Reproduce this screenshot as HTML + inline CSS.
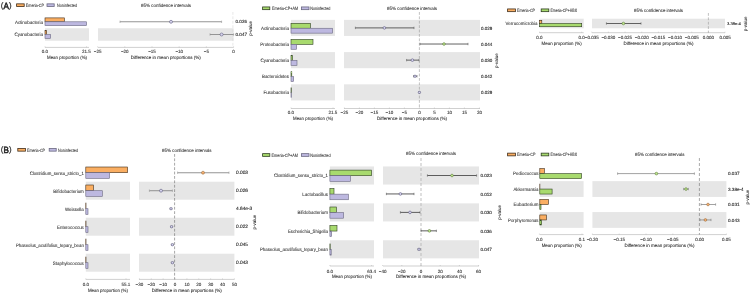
<!DOCTYPE html>
<html><head><meta charset="utf-8"><style>
html,body{margin:0;padding:0;background:#fff;width:750px;height:293px;overflow:hidden}
svg{display:block}
</style></head><body>
<svg width="750" height="293" viewBox="0 0 750 293">
<rect x="0" y="0" width="750" height="293" fill="#fff"/>
<rect x="45.00" y="28.25" width="44.00" height="12.50" fill="#E6E6E6"/>
<rect x="98.00" y="28.25" width="135.60" height="12.50" fill="#E6E6E6"/>
<line x1="45.00" y1="47.40" x2="89.00" y2="47.40" stroke="#B0B0B0" stroke-width="0.6"/>
<line x1="45.00" y1="46.40" x2="45.00" y2="47.40" stroke="#B0B0B0" stroke-width="0.5"/>
<line x1="86.50" y1="46.40" x2="86.50" y2="47.40" stroke="#B0B0B0" stroke-width="0.5"/>
<line x1="98.00" y1="47.40" x2="233.60" y2="47.40" stroke="#B0B0B0" stroke-width="0.6"/>
<line x1="97.60" y1="46.40" x2="97.60" y2="47.40" stroke="#B0B0B0" stroke-width="0.5"/>
<line x1="124.80" y1="46.40" x2="124.80" y2="47.40" stroke="#B0B0B0" stroke-width="0.5"/>
<line x1="152.00" y1="46.40" x2="152.00" y2="47.40" stroke="#B0B0B0" stroke-width="0.5"/>
<line x1="179.20" y1="46.40" x2="179.20" y2="47.40" stroke="#B0B0B0" stroke-width="0.5"/>
<line x1="206.40" y1="46.40" x2="206.40" y2="47.40" stroke="#B0B0B0" stroke-width="0.5"/>
<line x1="233.60" y1="46.40" x2="233.60" y2="47.40" stroke="#B0B0B0" stroke-width="0.5"/>
<line x1="232.90" y1="12.00" x2="232.90" y2="47.40" stroke="#d0d0d0" stroke-width="0.5" stroke-dasharray="2.8,1.6"/>
<rect x="45.00" y="17.90" width="19.40" height="3.90" fill="#FAAE62" stroke="#3f2c1a" stroke-width="0.6"/>
<rect x="45.00" y="21.80" width="41.60" height="3.90" fill="#BDB8E0" stroke="#6a6880" stroke-width="0.6"/>
<line x1="120.00" y1="21.80" x2="221.60" y2="21.80" stroke="#959595" stroke-width="1.05"/>
<line x1="120.00" y1="20.60" x2="120.00" y2="23.00" stroke="#959595" stroke-width="0.6"/>
<line x1="221.60" y1="20.60" x2="221.60" y2="23.00" stroke="#959595" stroke-width="0.6"/>
<circle cx="171.00" cy="21.80" r="1.5" fill="#D8D5EE" stroke="#4a4870" stroke-width="0.5"/>
<rect x="45.00" y="30.60" width="1.60" height="3.90" fill="#FAAE62" stroke="#3f2c1a" stroke-width="0.6"/>
<rect x="45.00" y="34.50" width="5.60" height="3.90" fill="#BDB8E0" stroke="#6a6880" stroke-width="0.6"/>
<line x1="210.00" y1="34.50" x2="233.60" y2="34.50" stroke="#959595" stroke-width="1.05"/>
<line x1="210.00" y1="33.30" x2="210.00" y2="35.70" stroke="#959595" stroke-width="0.6"/>
<line x1="233.60" y1="33.30" x2="233.60" y2="35.70" stroke="#959595" stroke-width="0.6"/>
<circle cx="221.60" cy="34.50" r="1.5" fill="#D8D5EE" stroke="#4a4870" stroke-width="0.5"/>
<rect x="16.60" y="3.85" width="7.60" height="2.70" fill="#FAAE62" stroke="#3f2c1a" stroke-width="0.8"/>
<rect x="47.00" y="3.85" width="7.20" height="2.70" fill="#BDB8E0" stroke="#6a6880" stroke-width="0.8"/>
<rect x="291.00" y="19.85" width="44.00" height="16.10" fill="#E6E6E6"/>
<rect x="344.00" y="19.85" width="136.00" height="16.10" fill="#E6E6E6"/>
<rect x="291.00" y="52.09" width="44.00" height="16.10" fill="#E6E6E6"/>
<rect x="344.00" y="52.09" width="136.00" height="16.10" fill="#E6E6E6"/>
<rect x="291.00" y="84.33" width="44.00" height="16.10" fill="#E6E6E6"/>
<rect x="344.00" y="84.33" width="136.00" height="16.10" fill="#E6E6E6"/>
<line x1="291.00" y1="108.50" x2="335.00" y2="108.50" stroke="#B0B0B0" stroke-width="0.6"/>
<line x1="291.00" y1="107.50" x2="291.00" y2="108.50" stroke="#B0B0B0" stroke-width="0.5"/>
<line x1="333.00" y1="107.50" x2="333.00" y2="108.50" stroke="#B0B0B0" stroke-width="0.5"/>
<line x1="344.00" y1="108.50" x2="480.00" y2="108.50" stroke="#B0B0B0" stroke-width="0.6"/>
<line x1="344.40" y1="107.50" x2="344.40" y2="108.50" stroke="#B0B0B0" stroke-width="0.5"/>
<line x1="359.40" y1="107.50" x2="359.40" y2="108.50" stroke="#B0B0B0" stroke-width="0.5"/>
<line x1="374.40" y1="107.50" x2="374.40" y2="108.50" stroke="#B0B0B0" stroke-width="0.5"/>
<line x1="389.40" y1="107.50" x2="389.40" y2="108.50" stroke="#B0B0B0" stroke-width="0.5"/>
<line x1="404.40" y1="107.50" x2="404.40" y2="108.50" stroke="#B0B0B0" stroke-width="0.5"/>
<line x1="419.40" y1="107.50" x2="419.40" y2="108.50" stroke="#B0B0B0" stroke-width="0.5"/>
<line x1="434.40" y1="107.50" x2="434.40" y2="108.50" stroke="#B0B0B0" stroke-width="0.5"/>
<line x1="449.40" y1="107.50" x2="449.40" y2="108.50" stroke="#B0B0B0" stroke-width="0.5"/>
<line x1="464.40" y1="107.50" x2="464.40" y2="108.50" stroke="#B0B0B0" stroke-width="0.5"/>
<line x1="479.40" y1="107.50" x2="479.40" y2="108.50" stroke="#B0B0B0" stroke-width="0.5"/>
<line x1="419.40" y1="12.00" x2="419.40" y2="108.50" stroke="#999999" stroke-width="0.6" stroke-dasharray="2.8,1.6"/>
<rect x="291.00" y="23.35" width="19.40" height="4.90" fill="#A8DA6E" stroke="#2f3f22" stroke-width="0.6"/>
<rect x="291.00" y="28.25" width="41.60" height="4.90" fill="#BDB8E0" stroke="#6a6880" stroke-width="0.6"/>
<line x1="355.40" y1="27.90" x2="414.00" y2="27.90" stroke="#5a5a5a" stroke-width="0.95"/>
<line x1="355.40" y1="26.70" x2="355.40" y2="29.10" stroke="#5a5a5a" stroke-width="0.6"/>
<line x1="414.00" y1="26.70" x2="414.00" y2="29.10" stroke="#5a5a5a" stroke-width="0.6"/>
<circle cx="384.40" cy="27.90" r="1.35" fill="#D8D5EE" stroke="#4a4870" stroke-width="0.5"/>
<rect x="291.00" y="39.47" width="22.00" height="4.90" fill="#A8DA6E" stroke="#2f3f22" stroke-width="0.6"/>
<rect x="291.00" y="44.37" width="5.60" height="4.90" fill="#BDB8E0" stroke="#6a6880" stroke-width="0.6"/>
<line x1="420.00" y1="44.02" x2="468.00" y2="44.02" stroke="#5a5a5a" stroke-width="0.95"/>
<line x1="420.00" y1="42.82" x2="420.00" y2="45.22" stroke="#5a5a5a" stroke-width="0.6"/>
<line x1="468.00" y1="42.82" x2="468.00" y2="45.22" stroke="#5a5a5a" stroke-width="0.6"/>
<circle cx="444.00" cy="44.02" r="1.35" fill="#C0E890" stroke="#4a6a25" stroke-width="0.5"/>
<rect x="291.00" y="55.59" width="1.40" height="4.90" fill="#A8DA6E" stroke="#2f3f22" stroke-width="0.6"/>
<rect x="291.00" y="60.49" width="6.00" height="4.90" fill="#BDB8E0" stroke="#6a6880" stroke-width="0.6"/>
<line x1="406.60" y1="60.14" x2="419.00" y2="60.14" stroke="#5a5a5a" stroke-width="0.95"/>
<line x1="406.60" y1="58.94" x2="406.60" y2="61.34" stroke="#5a5a5a" stroke-width="0.6"/>
<line x1="419.00" y1="58.94" x2="419.00" y2="61.34" stroke="#5a5a5a" stroke-width="0.6"/>
<circle cx="412.40" cy="60.14" r="1.35" fill="#D8D5EE" stroke="#4a4870" stroke-width="0.5"/>
<rect x="291.00" y="71.71" width="0.80" height="4.90" fill="#A8DA6E" stroke="#2f3f22" stroke-width="0.6"/>
<rect x="291.00" y="76.61" width="2.60" height="4.90" fill="#BDB8E0" stroke="#6a6880" stroke-width="0.6"/>
<line x1="413.60" y1="76.26" x2="417.00" y2="76.26" stroke="#5a5a5a" stroke-width="0.95"/>
<line x1="413.60" y1="75.06" x2="413.60" y2="77.46" stroke="#5a5a5a" stroke-width="0.6"/>
<line x1="417.00" y1="75.06" x2="417.00" y2="77.46" stroke="#5a5a5a" stroke-width="0.6"/>
<circle cx="415.00" cy="76.26" r="1.2" fill="#D8D5EE" stroke="#4a4870" stroke-width="0.5"/>
<rect x="291.00" y="87.83" width="0.30" height="4.90" fill="#A8DA6E" stroke="#2f3f22" stroke-width="0.6"/>
<rect x="291.00" y="92.73" width="0.50" height="4.90" fill="#BDB8E0" stroke="#6a6880" stroke-width="0.6"/>
<line x1="419.00" y1="92.38" x2="419.80" y2="92.38" stroke="#5a5a5a" stroke-width="0.95"/>
<line x1="419.00" y1="91.18" x2="419.00" y2="93.58" stroke="#5a5a5a" stroke-width="0.6"/>
<line x1="419.80" y1="91.18" x2="419.80" y2="93.58" stroke="#5a5a5a" stroke-width="0.6"/>
<circle cx="419.40" cy="92.38" r="1.2" fill="#D8D5EE" stroke="#4a4870" stroke-width="0.5"/>
<rect x="262.60" y="6.95" width="7.20" height="2.70" fill="#A8DA6E" stroke="#2f3f22" stroke-width="0.8"/>
<rect x="301.40" y="6.95" width="7.60" height="2.70" fill="#BDB8E0" stroke="#6a6880" stroke-width="0.8"/>
<rect x="539.50" y="18.70" width="44.20" height="9.60" fill="#E6E6E6"/>
<rect x="592.00" y="18.70" width="133.00" height="9.60" fill="#E6E6E6"/>
<line x1="539.50" y1="32.70" x2="583.70" y2="32.70" stroke="#B0B0B0" stroke-width="0.6"/>
<line x1="539.50" y1="31.70" x2="539.50" y2="32.70" stroke="#B0B0B0" stroke-width="0.5"/>
<line x1="581.70" y1="31.70" x2="581.70" y2="32.70" stroke="#B0B0B0" stroke-width="0.5"/>
<line x1="592.00" y1="32.70" x2="725.00" y2="32.70" stroke="#B0B0B0" stroke-width="0.6"/>
<line x1="591.70" y1="31.70" x2="591.70" y2="32.70" stroke="#B0B0B0" stroke-width="0.5"/>
<line x1="608.37" y1="31.70" x2="608.37" y2="32.70" stroke="#B0B0B0" stroke-width="0.5"/>
<line x1="625.04" y1="31.70" x2="625.04" y2="32.70" stroke="#B0B0B0" stroke-width="0.5"/>
<line x1="641.71" y1="31.70" x2="641.71" y2="32.70" stroke="#B0B0B0" stroke-width="0.5"/>
<line x1="658.38" y1="31.70" x2="658.38" y2="32.70" stroke="#B0B0B0" stroke-width="0.5"/>
<line x1="675.05" y1="31.70" x2="675.05" y2="32.70" stroke="#B0B0B0" stroke-width="0.5"/>
<line x1="691.72" y1="31.70" x2="691.72" y2="32.70" stroke="#B0B0B0" stroke-width="0.5"/>
<line x1="708.39" y1="31.70" x2="708.39" y2="32.70" stroke="#B0B0B0" stroke-width="0.5"/>
<line x1="725.06" y1="31.70" x2="725.06" y2="32.70" stroke="#B0B0B0" stroke-width="0.5"/>
<line x1="708.40" y1="13.00" x2="708.40" y2="32.70" stroke="#999999" stroke-width="0.6" stroke-dasharray="2.8,1.6"/>
<rect x="539.50" y="20.30" width="2.30" height="3.20" fill="#FAAE62" stroke="#3f2c1a" stroke-width="0.6"/>
<rect x="539.50" y="23.50" width="42.20" height="3.20" fill="#A8DA6E" stroke="#2f3f22" stroke-width="0.6"/>
<line x1="606.40" y1="23.50" x2="641.00" y2="23.50" stroke="#5a5a5a" stroke-width="0.95"/>
<line x1="606.40" y1="22.30" x2="606.40" y2="24.70" stroke="#5a5a5a" stroke-width="0.6"/>
<line x1="641.00" y1="22.30" x2="641.00" y2="24.70" stroke="#5a5a5a" stroke-width="0.6"/>
<circle cx="623.40" cy="23.50" r="1.35" fill="#C0E890" stroke="#4a6a25" stroke-width="0.5"/>
<rect x="507.60" y="8.95" width="7.80" height="2.70" fill="#FAAE62" stroke="#3f2c1a" stroke-width="0.8"/>
<rect x="541.20" y="8.95" width="7.60" height="2.70" fill="#A8DA6E" stroke="#2f3f22" stroke-width="0.8"/>
<rect x="85.80" y="181.70" width="44.20" height="18.00" fill="#E6E6E6"/>
<rect x="139.00" y="181.70" width="95.40" height="18.00" fill="#E6E6E6"/>
<rect x="85.80" y="217.70" width="44.20" height="18.00" fill="#E6E6E6"/>
<rect x="139.00" y="217.70" width="95.40" height="18.00" fill="#E6E6E6"/>
<rect x="85.80" y="253.70" width="44.20" height="18.00" fill="#E6E6E6"/>
<rect x="139.00" y="253.70" width="95.40" height="18.00" fill="#E6E6E6"/>
<line x1="85.80" y1="279.40" x2="130.00" y2="279.40" stroke="#B0B0B0" stroke-width="0.6"/>
<line x1="85.80" y1="278.40" x2="85.80" y2="279.40" stroke="#B0B0B0" stroke-width="0.5"/>
<line x1="126.00" y1="278.40" x2="126.00" y2="279.40" stroke="#B0B0B0" stroke-width="0.5"/>
<line x1="139.00" y1="279.40" x2="234.40" y2="279.40" stroke="#B0B0B0" stroke-width="0.6"/>
<line x1="139.40" y1="278.40" x2="139.40" y2="279.40" stroke="#B0B0B0" stroke-width="0.5"/>
<line x1="151.28" y1="278.40" x2="151.28" y2="279.40" stroke="#B0B0B0" stroke-width="0.5"/>
<line x1="163.15" y1="278.40" x2="163.15" y2="279.40" stroke="#B0B0B0" stroke-width="0.5"/>
<line x1="175.03" y1="278.40" x2="175.03" y2="279.40" stroke="#B0B0B0" stroke-width="0.5"/>
<line x1="186.90" y1="278.40" x2="186.90" y2="279.40" stroke="#B0B0B0" stroke-width="0.5"/>
<line x1="198.78" y1="278.40" x2="198.78" y2="279.40" stroke="#B0B0B0" stroke-width="0.5"/>
<line x1="210.65" y1="278.40" x2="210.65" y2="279.40" stroke="#B0B0B0" stroke-width="0.5"/>
<line x1="222.53" y1="278.40" x2="222.53" y2="279.40" stroke="#B0B0B0" stroke-width="0.5"/>
<line x1="234.40" y1="278.40" x2="234.40" y2="279.40" stroke="#B0B0B0" stroke-width="0.5"/>
<line x1="174.60" y1="154.00" x2="174.60" y2="279.40" stroke="#6a6a6a" stroke-width="0.6" stroke-dasharray="2.8,1.6"/>
<rect x="85.80" y="167.00" width="41.80" height="5.70" fill="#FAAE62" stroke="#3f2c1a" stroke-width="0.6"/>
<rect x="85.80" y="172.70" width="23.80" height="5.70" fill="#BDB8E0" stroke="#6a6880" stroke-width="0.6"/>
<line x1="177.60" y1="172.70" x2="229.00" y2="172.70" stroke="#959595" stroke-width="1.05"/>
<line x1="177.60" y1="171.50" x2="177.60" y2="173.90" stroke="#959595" stroke-width="0.6"/>
<line x1="229.00" y1="171.50" x2="229.00" y2="173.90" stroke="#959595" stroke-width="0.6"/>
<circle cx="203.00" cy="172.70" r="1.5" fill="#F8B070" stroke="#8a6035" stroke-width="0.5"/>
<rect x="85.80" y="185.00" width="7.60" height="5.70" fill="#FAAE62" stroke="#3f2c1a" stroke-width="0.6"/>
<rect x="85.80" y="190.70" width="16.50" height="5.70" fill="#BDB8E0" stroke="#6a6880" stroke-width="0.6"/>
<line x1="149.40" y1="190.70" x2="172.40" y2="190.70" stroke="#959595" stroke-width="1.05"/>
<line x1="149.40" y1="189.50" x2="149.40" y2="191.90" stroke="#959595" stroke-width="0.6"/>
<line x1="172.40" y1="189.50" x2="172.40" y2="191.90" stroke="#959595" stroke-width="0.6"/>
<circle cx="161.00" cy="190.70" r="1.5" fill="#D8D5EE" stroke="#4a4870" stroke-width="0.5"/>
<rect x="85.80" y="203.00" width="0.20" height="5.70" fill="#FAAE62" stroke="#3f2c1a" stroke-width="0.6"/>
<rect x="85.80" y="208.70" width="2.20" height="5.70" fill="#BDB8E0" stroke="#6a6880" stroke-width="0.6"/>
<line x1="170.00" y1="208.70" x2="172.00" y2="208.70" stroke="#959595" stroke-width="1.05"/>
<line x1="170.00" y1="207.50" x2="170.00" y2="209.90" stroke="#959595" stroke-width="0.6"/>
<line x1="172.00" y1="207.50" x2="172.00" y2="209.90" stroke="#959595" stroke-width="0.6"/>
<circle cx="171.00" cy="208.70" r="1.2" fill="#D8D5EE" stroke="#4a4870" stroke-width="0.5"/>
<rect x="85.80" y="221.00" width="0.20" height="5.70" fill="#FAAE62" stroke="#3f2c1a" stroke-width="0.6"/>
<rect x="85.80" y="226.70" width="2.20" height="5.70" fill="#BDB8E0" stroke="#6a6880" stroke-width="0.6"/>
<line x1="170.60" y1="226.70" x2="172.60" y2="226.70" stroke="#959595" stroke-width="1.05"/>
<line x1="170.60" y1="225.50" x2="170.60" y2="227.90" stroke="#959595" stroke-width="0.6"/>
<line x1="172.60" y1="225.50" x2="172.60" y2="227.90" stroke="#959595" stroke-width="0.6"/>
<circle cx="171.60" cy="226.70" r="1.2" fill="#D8D5EE" stroke="#4a4870" stroke-width="0.5"/>
<rect x="85.80" y="239.00" width="0.20" height="5.70" fill="#FAAE62" stroke="#3f2c1a" stroke-width="0.6"/>
<rect x="85.80" y="244.70" width="2.20" height="5.70" fill="#BDB8E0" stroke="#6a6880" stroke-width="0.6"/>
<line x1="171.40" y1="244.70" x2="173.40" y2="244.70" stroke="#959595" stroke-width="1.05"/>
<line x1="171.40" y1="243.50" x2="171.40" y2="245.90" stroke="#959595" stroke-width="0.6"/>
<line x1="173.40" y1="243.50" x2="173.40" y2="245.90" stroke="#959595" stroke-width="0.6"/>
<circle cx="172.40" cy="244.70" r="1.2" fill="#D8D5EE" stroke="#4a4870" stroke-width="0.5"/>
<rect x="85.80" y="257.00" width="0.20" height="5.70" fill="#FAAE62" stroke="#3f2c1a" stroke-width="0.6"/>
<rect x="85.80" y="262.70" width="2.20" height="5.70" fill="#BDB8E0" stroke="#6a6880" stroke-width="0.6"/>
<line x1="171.40" y1="262.70" x2="173.40" y2="262.70" stroke="#959595" stroke-width="1.05"/>
<line x1="171.40" y1="261.50" x2="171.40" y2="263.90" stroke="#959595" stroke-width="0.6"/>
<line x1="173.40" y1="261.50" x2="173.40" y2="263.90" stroke="#959595" stroke-width="0.6"/>
<circle cx="172.40" cy="262.70" r="1.2" fill="#D8D5EE" stroke="#4a4870" stroke-width="0.5"/>
<rect x="17.80" y="148.45" width="7.60" height="2.70" fill="#FAAE62" stroke="#3f2c1a" stroke-width="0.8"/>
<rect x="49.20" y="148.45" width="7.00" height="2.70" fill="#BDB8E0" stroke="#6a6880" stroke-width="0.8"/>
<rect x="329.90" y="166.45" width="44.10" height="18.10" fill="#E6E6E6"/>
<rect x="383.00" y="166.45" width="96.00" height="18.10" fill="#E6E6E6"/>
<rect x="329.90" y="203.35" width="44.10" height="18.10" fill="#E6E6E6"/>
<rect x="383.00" y="203.35" width="96.00" height="18.10" fill="#E6E6E6"/>
<rect x="329.90" y="240.25" width="44.10" height="18.10" fill="#E6E6E6"/>
<rect x="383.00" y="240.25" width="96.00" height="18.10" fill="#E6E6E6"/>
<line x1="329.90" y1="266.00" x2="374.00" y2="266.00" stroke="#B0B0B0" stroke-width="0.6"/>
<line x1="329.90" y1="265.00" x2="329.90" y2="266.00" stroke="#B0B0B0" stroke-width="0.5"/>
<line x1="371.60" y1="265.00" x2="371.60" y2="266.00" stroke="#B0B0B0" stroke-width="0.5"/>
<line x1="383.00" y1="266.00" x2="479.00" y2="266.00" stroke="#B0B0B0" stroke-width="0.6"/>
<line x1="382.60" y1="265.00" x2="382.60" y2="266.00" stroke="#B0B0B0" stroke-width="0.5"/>
<line x1="401.80" y1="265.00" x2="401.80" y2="266.00" stroke="#B0B0B0" stroke-width="0.5"/>
<line x1="421.00" y1="265.00" x2="421.00" y2="266.00" stroke="#B0B0B0" stroke-width="0.5"/>
<line x1="440.20" y1="265.00" x2="440.20" y2="266.00" stroke="#B0B0B0" stroke-width="0.5"/>
<line x1="459.40" y1="265.00" x2="459.40" y2="266.00" stroke="#B0B0B0" stroke-width="0.5"/>
<line x1="478.60" y1="265.00" x2="478.60" y2="266.00" stroke="#B0B0B0" stroke-width="0.5"/>
<line x1="421.00" y1="158.00" x2="421.00" y2="266.00" stroke="#b8b8b8" stroke-width="0.9" stroke-dasharray="3,2"/>
<rect x="329.90" y="170.10" width="41.70" height="5.60" fill="#A8DA6E" stroke="#2f3f22" stroke-width="0.6"/>
<rect x="329.90" y="175.70" width="20.50" height="5.60" fill="#BDB8E0" stroke="#6a6880" stroke-width="0.6"/>
<line x1="427.40" y1="175.50" x2="476.60" y2="175.50" stroke="#555555" stroke-width="0.95"/>
<line x1="427.40" y1="174.30" x2="427.40" y2="176.70" stroke="#555555" stroke-width="0.6"/>
<line x1="476.60" y1="174.30" x2="476.60" y2="176.70" stroke="#555555" stroke-width="0.6"/>
<circle cx="452.00" cy="175.50" r="1.35" fill="#C0E890" stroke="#4a6a25" stroke-width="0.5"/>
<rect x="329.90" y="188.55" width="4.10" height="5.60" fill="#A8DA6E" stroke="#2f3f22" stroke-width="0.6"/>
<rect x="329.90" y="194.15" width="18.50" height="5.60" fill="#BDB8E0" stroke="#6a6880" stroke-width="0.6"/>
<line x1="386.40" y1="193.95" x2="414.00" y2="193.95" stroke="#555555" stroke-width="0.95"/>
<line x1="386.40" y1="192.75" x2="386.40" y2="195.15" stroke="#555555" stroke-width="0.6"/>
<line x1="414.00" y1="192.75" x2="414.00" y2="195.15" stroke="#555555" stroke-width="0.6"/>
<circle cx="400.40" cy="193.95" r="1.35" fill="#D8D5EE" stroke="#4a4870" stroke-width="0.5"/>
<rect x="329.90" y="207.00" width="6.50" height="5.60" fill="#A8DA6E" stroke="#2f3f22" stroke-width="0.6"/>
<rect x="329.90" y="212.60" width="13.70" height="5.60" fill="#BDB8E0" stroke="#6a6880" stroke-width="0.6"/>
<line x1="400.40" y1="212.40" x2="420.00" y2="212.40" stroke="#555555" stroke-width="0.95"/>
<line x1="400.40" y1="211.20" x2="400.40" y2="213.60" stroke="#555555" stroke-width="0.6"/>
<line x1="420.00" y1="211.20" x2="420.00" y2="213.60" stroke="#555555" stroke-width="0.6"/>
<circle cx="410.00" cy="212.40" r="1.35" fill="#D8D5EE" stroke="#4a4870" stroke-width="0.5"/>
<rect x="329.90" y="225.45" width="7.10" height="5.60" fill="#A8DA6E" stroke="#2f3f22" stroke-width="0.6"/>
<rect x="329.90" y="231.05" width="1.70" height="5.60" fill="#BDB8E0" stroke="#6a6880" stroke-width="0.6"/>
<line x1="421.00" y1="230.85" x2="436.40" y2="230.85" stroke="#555555" stroke-width="0.95"/>
<line x1="421.00" y1="229.65" x2="421.00" y2="232.05" stroke="#555555" stroke-width="0.6"/>
<line x1="436.40" y1="229.65" x2="436.40" y2="232.05" stroke="#555555" stroke-width="0.6"/>
<circle cx="429.40" cy="230.85" r="1.35" fill="#C0E890" stroke="#4a6a25" stroke-width="0.5"/>
<rect x="329.90" y="243.90" width="0.30" height="5.60" fill="#A8DA6E" stroke="#2f3f22" stroke-width="0.6"/>
<rect x="329.90" y="249.50" width="1.30" height="5.60" fill="#BDB8E0" stroke="#6a6880" stroke-width="0.6"/>
<line x1="418.00" y1="249.30" x2="420.00" y2="249.30" stroke="#555555" stroke-width="0.95"/>
<line x1="418.00" y1="248.10" x2="418.00" y2="250.50" stroke="#555555" stroke-width="0.6"/>
<line x1="420.00" y1="248.10" x2="420.00" y2="250.50" stroke="#555555" stroke-width="0.6"/>
<circle cx="419.00" cy="249.30" r="1.2" fill="#D8D5EE" stroke="#4a4870" stroke-width="0.5"/>
<rect x="262.60" y="153.65" width="7.20" height="2.70" fill="#A8DA6E" stroke="#2f3f22" stroke-width="0.8"/>
<rect x="301.40" y="153.65" width="7.60" height="2.70" fill="#BDB8E0" stroke="#6a6880" stroke-width="0.8"/>
<rect x="539.80" y="181.15" width="43.80" height="15.80" fill="#E6E6E6"/>
<rect x="592.40" y="181.15" width="134.00" height="15.80" fill="#E6E6E6"/>
<rect x="539.80" y="212.05" width="43.80" height="15.80" fill="#E6E6E6"/>
<rect x="592.40" y="212.05" width="134.00" height="15.80" fill="#E6E6E6"/>
<line x1="539.80" y1="234.60" x2="583.60" y2="234.60" stroke="#B0B0B0" stroke-width="0.6"/>
<line x1="539.40" y1="233.60" x2="539.40" y2="234.60" stroke="#B0B0B0" stroke-width="0.5"/>
<line x1="582.00" y1="233.60" x2="582.00" y2="234.60" stroke="#B0B0B0" stroke-width="0.5"/>
<line x1="592.40" y1="234.60" x2="726.40" y2="234.60" stroke="#B0B0B0" stroke-width="0.6"/>
<line x1="592.40" y1="233.60" x2="592.40" y2="234.60" stroke="#B0B0B0" stroke-width="0.5"/>
<line x1="619.20" y1="233.60" x2="619.20" y2="234.60" stroke="#B0B0B0" stroke-width="0.5"/>
<line x1="646.00" y1="233.60" x2="646.00" y2="234.60" stroke="#B0B0B0" stroke-width="0.5"/>
<line x1="672.80" y1="233.60" x2="672.80" y2="234.60" stroke="#B0B0B0" stroke-width="0.5"/>
<line x1="699.60" y1="233.60" x2="699.60" y2="234.60" stroke="#B0B0B0" stroke-width="0.5"/>
<line x1="726.40" y1="233.60" x2="726.40" y2="234.60" stroke="#B0B0B0" stroke-width="0.5"/>
<line x1="699.40" y1="158.00" x2="699.40" y2="234.60" stroke="#707070" stroke-width="0.6" stroke-dasharray="3,2"/>
<rect x="539.80" y="168.60" width="4.60" height="5.00" fill="#FAAE62" stroke="#3f2c1a" stroke-width="0.6"/>
<rect x="539.80" y="173.60" width="41.80" height="5.00" fill="#A8DA6E" stroke="#2f3f22" stroke-width="0.6"/>
<line x1="617.60" y1="173.60" x2="694.40" y2="173.60" stroke="#7a7a7a" stroke-width="0.7"/>
<line x1="617.60" y1="172.40" x2="617.60" y2="174.80" stroke="#7a7a7a" stroke-width="0.6"/>
<line x1="694.40" y1="172.40" x2="694.40" y2="174.80" stroke="#7a7a7a" stroke-width="0.6"/>
<circle cx="656.40" cy="173.60" r="1.35" fill="#C0E890" stroke="#4a6a25" stroke-width="0.5"/>
<rect x="539.80" y="184.05" width="0.10" height="5.00" fill="#FAAE62" stroke="#3f2c1a" stroke-width="0.6"/>
<rect x="539.80" y="189.05" width="12.30" height="5.00" fill="#A8DA6E" stroke="#2f3f22" stroke-width="0.6"/>
<line x1="683.60" y1="189.05" x2="688.40" y2="189.05" stroke="#7a7a7a" stroke-width="0.7"/>
<line x1="683.60" y1="187.85" x2="683.60" y2="190.25" stroke="#7a7a7a" stroke-width="0.6"/>
<line x1="688.40" y1="187.85" x2="688.40" y2="190.25" stroke="#7a7a7a" stroke-width="0.6"/>
<circle cx="686.00" cy="189.05" r="1.35" fill="#C0E890" stroke="#4a6a25" stroke-width="0.5"/>
<rect x="539.80" y="199.50" width="8.60" height="5.00" fill="#FAAE62" stroke="#3f2c1a" stroke-width="0.6"/>
<rect x="539.80" y="204.50" width="1.20" height="5.00" fill="#A8DA6E" stroke="#2f3f22" stroke-width="0.6"/>
<line x1="701.00" y1="204.50" x2="715.60" y2="204.50" stroke="#7a7a7a" stroke-width="0.7"/>
<line x1="701.00" y1="203.30" x2="701.00" y2="205.70" stroke="#7a7a7a" stroke-width="0.6"/>
<line x1="715.60" y1="203.30" x2="715.60" y2="205.70" stroke="#7a7a7a" stroke-width="0.6"/>
<circle cx="708.00" cy="204.50" r="1.35" fill="#F8B070" stroke="#8a6035" stroke-width="0.5"/>
<rect x="539.80" y="214.95" width="6.60" height="5.00" fill="#FAAE62" stroke="#3f2c1a" stroke-width="0.6"/>
<rect x="539.80" y="219.95" width="1.80" height="5.00" fill="#A8DA6E" stroke="#2f3f22" stroke-width="0.6"/>
<line x1="700.00" y1="219.95" x2="711.00" y2="219.95" stroke="#7a7a7a" stroke-width="0.7"/>
<line x1="700.00" y1="218.75" x2="700.00" y2="221.15" stroke="#7a7a7a" stroke-width="0.6"/>
<line x1="711.00" y1="218.75" x2="711.00" y2="221.15" stroke="#7a7a7a" stroke-width="0.6"/>
<circle cx="705.40" cy="219.95" r="1.35" fill="#F8B070" stroke="#8a6035" stroke-width="0.5"/>
<rect x="507.60" y="153.15" width="7.80" height="2.70" fill="#FAAE62" stroke="#3f2c1a" stroke-width="0.8"/>
<rect x="541.20" y="153.15" width="7.60" height="2.70" fill="#A8DA6E" stroke="#2f3f22" stroke-width="0.8"/>
<g style="filter:grayscale(1)" text-rendering="geometricPrecision">
<text x="45.00" y="53.21" font-size="4.5" text-anchor="middle" font-family="'Liberation Sans', sans-serif" fill="#2b2b2b" stroke="#2b2b2b" stroke-width="0.08">0.0</text>
<text x="86.50" y="53.21" font-size="4.5" text-anchor="middle" font-family="'Liberation Sans', sans-serif" fill="#2b2b2b" stroke="#2b2b2b" stroke-width="0.08">21.5</text>
<text x="97.60" y="53.21" font-size="4.5" text-anchor="middle" font-family="'Liberation Sans', sans-serif" fill="#2b2b2b" stroke="#2b2b2b" stroke-width="0.08">−25</text>
<text x="124.80" y="53.21" font-size="4.5" text-anchor="middle" font-family="'Liberation Sans', sans-serif" fill="#2b2b2b" stroke="#2b2b2b" stroke-width="0.08">−20</text>
<text x="152.00" y="53.21" font-size="4.5" text-anchor="middle" font-family="'Liberation Sans', sans-serif" fill="#2b2b2b" stroke="#2b2b2b" stroke-width="0.08">−15</text>
<text x="179.20" y="53.21" font-size="4.5" text-anchor="middle" font-family="'Liberation Sans', sans-serif" fill="#2b2b2b" stroke="#2b2b2b" stroke-width="0.08">−10</text>
<text x="206.40" y="53.21" font-size="4.5" text-anchor="middle" font-family="'Liberation Sans', sans-serif" fill="#2b2b2b" stroke="#2b2b2b" stroke-width="0.08">−5</text>
<text x="233.60" y="53.21" font-size="4.5" text-anchor="middle" font-family="'Liberation Sans', sans-serif" fill="#2b2b2b" stroke="#2b2b2b" stroke-width="0.08">0</text>
<text x="67.00" y="59.15" font-size="4.6" text-anchor="middle" font-family="'Liberation Sans', sans-serif" fill="#2b2b2b" stroke="#2b2b2b" stroke-width="0.08" textLength="40.00" lengthAdjust="spacingAndGlyphs">Mean proportion (%)</text>
<text x="165.80" y="59.15" font-size="4.6" text-anchor="middle" font-family="'Liberation Sans', sans-serif" fill="#2b2b2b" stroke="#2b2b2b" stroke-width="0.08" textLength="70.00" lengthAdjust="spacingAndGlyphs">Difference in mean proportions (%)</text>
<text x="43.00" y="23.52" font-size="4.8" text-anchor="end" font-family="'Liberation Sans', sans-serif" fill="#303030" stroke="#303030" stroke-width="0.07" textLength="28.01" lengthAdjust="spacingAndGlyphs">Actinobacteria</text>
<text x="235.50" y="23.45" font-size="4.6" text-anchor="start" font-family="'Liberation Sans', sans-serif" fill="#2b2b2b" stroke="#2b2b2b" stroke-width="0.12">0.026</text>
<text x="43.00" y="36.22" font-size="4.8" text-anchor="end" font-family="'Liberation Sans', sans-serif" fill="#303030" stroke="#303030" stroke-width="0.07" textLength="28.50" lengthAdjust="spacingAndGlyphs">Cyanobacteria</text>
<text x="235.50" y="36.15" font-size="4.6" text-anchor="start" font-family="'Liberation Sans', sans-serif" fill="#2b2b2b" stroke="#2b2b2b" stroke-width="0.12">0.047</text>
<text x="141.00" y="6.95" font-size="4.6" text-anchor="start" font-family="'Liberation Sans', sans-serif" fill="#333" stroke="#333" stroke-width="0.08" textLength="50.00" lengthAdjust="spacingAndGlyphs">95% confidence intervals</text>
<text x="250.60" y="29.91" font-size="4.5" text-anchor="middle" font-family="'Liberation Sans', sans-serif" fill="#2b2b2b" stroke="#2b2b2b" stroke-width="0.08" transform="rotate(-90 250.60 28.30)">p-value</text>
<text x="25.80" y="7.00" font-size="4.6" text-anchor="start" font-family="'Liberation Sans', sans-serif" fill="#333" stroke="#333" stroke-width="0.08" textLength="18.20" lengthAdjust="spacingAndGlyphs">Emeria-CP</text>
<text x="57.00" y="7.00" font-size="4.6" text-anchor="start" font-family="'Liberation Sans', sans-serif" fill="#333" stroke="#333" stroke-width="0.08" textLength="20.00" lengthAdjust="spacingAndGlyphs">Noninfected</text>
<text x="291.00" y="114.21" font-size="4.5" text-anchor="middle" font-family="'Liberation Sans', sans-serif" fill="#2b2b2b" stroke="#2b2b2b" stroke-width="0.08">0.0</text>
<text x="333.00" y="114.21" font-size="4.5" text-anchor="middle" font-family="'Liberation Sans', sans-serif" fill="#2b2b2b" stroke="#2b2b2b" stroke-width="0.08">21.5</text>
<text x="344.40" y="114.21" font-size="4.5" text-anchor="middle" font-family="'Liberation Sans', sans-serif" fill="#2b2b2b" stroke="#2b2b2b" stroke-width="0.08">−25</text>
<text x="359.40" y="114.21" font-size="4.5" text-anchor="middle" font-family="'Liberation Sans', sans-serif" fill="#2b2b2b" stroke="#2b2b2b" stroke-width="0.08">−20</text>
<text x="374.40" y="114.21" font-size="4.5" text-anchor="middle" font-family="'Liberation Sans', sans-serif" fill="#2b2b2b" stroke="#2b2b2b" stroke-width="0.08">−15</text>
<text x="389.40" y="114.21" font-size="4.5" text-anchor="middle" font-family="'Liberation Sans', sans-serif" fill="#2b2b2b" stroke="#2b2b2b" stroke-width="0.08">−10</text>
<text x="404.40" y="114.21" font-size="4.5" text-anchor="middle" font-family="'Liberation Sans', sans-serif" fill="#2b2b2b" stroke="#2b2b2b" stroke-width="0.08">−5</text>
<text x="419.40" y="114.21" font-size="4.5" text-anchor="middle" font-family="'Liberation Sans', sans-serif" fill="#2b2b2b" stroke="#2b2b2b" stroke-width="0.08">0</text>
<text x="434.40" y="114.21" font-size="4.5" text-anchor="middle" font-family="'Liberation Sans', sans-serif" fill="#2b2b2b" stroke="#2b2b2b" stroke-width="0.08">5</text>
<text x="449.40" y="114.21" font-size="4.5" text-anchor="middle" font-family="'Liberation Sans', sans-serif" fill="#2b2b2b" stroke="#2b2b2b" stroke-width="0.08">10</text>
<text x="464.40" y="114.21" font-size="4.5" text-anchor="middle" font-family="'Liberation Sans', sans-serif" fill="#2b2b2b" stroke="#2b2b2b" stroke-width="0.08">15</text>
<text x="479.40" y="114.21" font-size="4.5" text-anchor="middle" font-family="'Liberation Sans', sans-serif" fill="#2b2b2b" stroke="#2b2b2b" stroke-width="0.08">20</text>
<text x="313.00" y="120.35" font-size="4.6" text-anchor="middle" font-family="'Liberation Sans', sans-serif" fill="#2b2b2b" stroke="#2b2b2b" stroke-width="0.08" textLength="40.00" lengthAdjust="spacingAndGlyphs">Mean proportion (%)</text>
<text x="412.00" y="120.35" font-size="4.6" text-anchor="middle" font-family="'Liberation Sans', sans-serif" fill="#2b2b2b" stroke="#2b2b2b" stroke-width="0.08" textLength="70.00" lengthAdjust="spacingAndGlyphs">Difference in mean proportions (%)</text>
<text x="289.00" y="29.62" font-size="4.8" text-anchor="end" font-family="'Liberation Sans', sans-serif" fill="#303030" stroke="#303030" stroke-width="0.07" textLength="28.01" lengthAdjust="spacingAndGlyphs">Actinobacteria</text>
<text x="481.00" y="29.51" font-size="4.5" text-anchor="start" font-family="'Liberation Sans', sans-serif" fill="#2b2b2b" stroke="#2b2b2b" stroke-width="0.12">0.029</text>
<text x="289.00" y="45.74" font-size="4.8" text-anchor="end" font-family="'Liberation Sans', sans-serif" fill="#303030" stroke="#303030" stroke-width="0.07" textLength="28.75" lengthAdjust="spacingAndGlyphs">Proteobacteria</text>
<text x="481.00" y="45.63" font-size="4.5" text-anchor="start" font-family="'Liberation Sans', sans-serif" fill="#2b2b2b" stroke="#2b2b2b" stroke-width="0.12">0.044</text>
<text x="289.00" y="61.86" font-size="4.8" text-anchor="end" font-family="'Liberation Sans', sans-serif" fill="#303030" stroke="#303030" stroke-width="0.07" textLength="28.50" lengthAdjust="spacingAndGlyphs">Cyanobacteria</text>
<text x="481.00" y="61.75" font-size="4.5" text-anchor="start" font-family="'Liberation Sans', sans-serif" fill="#2b2b2b" stroke="#2b2b2b" stroke-width="0.12">0.030</text>
<text x="289.00" y="77.98" font-size="4.8" text-anchor="end" font-family="'Liberation Sans', sans-serif" fill="#303030" stroke="#303030" stroke-width="0.07" textLength="27.03" lengthAdjust="spacingAndGlyphs">Bacteroidetes</text>
<text x="481.00" y="77.87" font-size="4.5" text-anchor="start" font-family="'Liberation Sans', sans-serif" fill="#2b2b2b" stroke="#2b2b2b" stroke-width="0.12">0.042</text>
<text x="289.00" y="94.10" font-size="4.8" text-anchor="end" font-family="'Liberation Sans', sans-serif" fill="#303030" stroke="#303030" stroke-width="0.07" textLength="25.55" lengthAdjust="spacingAndGlyphs">Fusobacteria</text>
<text x="481.00" y="93.99" font-size="4.5" text-anchor="start" font-family="'Liberation Sans', sans-serif" fill="#2b2b2b" stroke="#2b2b2b" stroke-width="0.12">0.029</text>
<text x="387.00" y="10.05" font-size="4.6" text-anchor="start" font-family="'Liberation Sans', sans-serif" fill="#333" stroke="#333" stroke-width="0.08" textLength="50.00" lengthAdjust="spacingAndGlyphs">95% confidence intervals</text>
<text x="496.80" y="62.21" font-size="4.5" text-anchor="middle" font-family="'Liberation Sans', sans-serif" fill="#2b2b2b" stroke="#2b2b2b" stroke-width="0.08" transform="rotate(-90 496.80 60.60)">p-value</text>
<text x="272.00" y="10.10" font-size="4.6" text-anchor="start" font-family="'Liberation Sans', sans-serif" fill="#333" stroke="#333" stroke-width="0.08" textLength="26.00" lengthAdjust="spacingAndGlyphs">Emeria-CP+AM</text>
<text x="310.20" y="10.10" font-size="4.6" text-anchor="start" font-family="'Liberation Sans', sans-serif" fill="#333" stroke="#333" stroke-width="0.08" textLength="20.20" lengthAdjust="spacingAndGlyphs">Noninfected</text>
<text x="539.50" y="39.01" font-size="4.5" text-anchor="middle" font-family="'Liberation Sans', sans-serif" fill="#2b2b2b" stroke="#2b2b2b" stroke-width="0.08">0.0</text>
<text x="581.70" y="39.01" font-size="4.5" text-anchor="middle" font-family="'Liberation Sans', sans-serif" fill="#2b2b2b" stroke="#2b2b2b" stroke-width="0.08">0.0</text>
<text x="591.70" y="39.01" font-size="4.5" text-anchor="middle" font-family="'Liberation Sans', sans-serif" fill="#2b2b2b" stroke="#2b2b2b" stroke-width="0.08">−0.035</text>
<text x="608.37" y="39.01" font-size="4.5" text-anchor="middle" font-family="'Liberation Sans', sans-serif" fill="#2b2b2b" stroke="#2b2b2b" stroke-width="0.08">−0.030</text>
<text x="625.04" y="39.01" font-size="4.5" text-anchor="middle" font-family="'Liberation Sans', sans-serif" fill="#2b2b2b" stroke="#2b2b2b" stroke-width="0.08">−0.025</text>
<text x="641.71" y="39.01" font-size="4.5" text-anchor="middle" font-family="'Liberation Sans', sans-serif" fill="#2b2b2b" stroke="#2b2b2b" stroke-width="0.08">−0.020</text>
<text x="658.38" y="39.01" font-size="4.5" text-anchor="middle" font-family="'Liberation Sans', sans-serif" fill="#2b2b2b" stroke="#2b2b2b" stroke-width="0.08">−0.015</text>
<text x="675.05" y="39.01" font-size="4.5" text-anchor="middle" font-family="'Liberation Sans', sans-serif" fill="#2b2b2b" stroke="#2b2b2b" stroke-width="0.08">−0.010</text>
<text x="691.72" y="39.01" font-size="4.5" text-anchor="middle" font-family="'Liberation Sans', sans-serif" fill="#2b2b2b" stroke="#2b2b2b" stroke-width="0.08">−0.005</text>
<text x="708.39" y="39.01" font-size="4.5" text-anchor="middle" font-family="'Liberation Sans', sans-serif" fill="#2b2b2b" stroke="#2b2b2b" stroke-width="0.08">0.000</text>
<text x="725.06" y="39.01" font-size="4.5" text-anchor="middle" font-family="'Liberation Sans', sans-serif" fill="#2b2b2b" stroke="#2b2b2b" stroke-width="0.08">0.005</text>
<text x="561.60" y="44.95" font-size="4.6" text-anchor="middle" font-family="'Liberation Sans', sans-serif" fill="#2b2b2b" stroke="#2b2b2b" stroke-width="0.08" textLength="40.00" lengthAdjust="spacingAndGlyphs">Mean proportion (%)</text>
<text x="658.50" y="44.95" font-size="4.6" text-anchor="middle" font-family="'Liberation Sans', sans-serif" fill="#2b2b2b" stroke="#2b2b2b" stroke-width="0.08" textLength="70.00" lengthAdjust="spacingAndGlyphs">Difference in mean proportions (%)</text>
<text x="537.50" y="25.22" font-size="4.8" text-anchor="end" font-family="'Liberation Sans', sans-serif" fill="#303030" stroke="#303030" stroke-width="0.07" textLength="31.93" lengthAdjust="spacingAndGlyphs">Verrucomicrobia</text>
<text x="727.00" y="24.93" font-size="4.0" text-anchor="start" font-family="'Liberation Serif', serif" fill="#2b2b2b" stroke="#2b2b2b" stroke-width="0.12" textLength="13.80" lengthAdjust="spacingAndGlyphs">3.38e-4</text>
<text x="634.00" y="11.65" font-size="4.6" text-anchor="start" font-family="'Liberation Sans', sans-serif" fill="#333" stroke="#333" stroke-width="0.08" textLength="49.00" lengthAdjust="spacingAndGlyphs">95% confidence intervals</text>
<text x="745.20" y="25.41" font-size="4.5" text-anchor="middle" font-family="'Liberation Sans', sans-serif" fill="#2b2b2b" stroke="#2b2b2b" stroke-width="0.08" transform="rotate(-90 745.20 23.80)">p-value</text>
<text x="517.00" y="12.10" font-size="4.6" text-anchor="start" font-family="'Liberation Sans', sans-serif" fill="#333" stroke="#333" stroke-width="0.08" textLength="18.00" lengthAdjust="spacingAndGlyphs">Emeria-CP</text>
<text x="550.40" y="12.10" font-size="4.6" text-anchor="start" font-family="'Liberation Sans', sans-serif" fill="#333" stroke="#333" stroke-width="0.08" textLength="26.60" lengthAdjust="spacingAndGlyphs">Emeria-CP+HBX</text>
<text x="85.80" y="285.51" font-size="4.5" text-anchor="middle" font-family="'Liberation Sans', sans-serif" fill="#2b2b2b" stroke="#2b2b2b" stroke-width="0.08">0.0</text>
<text x="126.00" y="285.51" font-size="4.5" text-anchor="middle" font-family="'Liberation Sans', sans-serif" fill="#2b2b2b" stroke="#2b2b2b" stroke-width="0.08">55.1</text>
<text x="139.40" y="285.51" font-size="4.5" text-anchor="middle" font-family="'Liberation Sans', sans-serif" fill="#2b2b2b" stroke="#2b2b2b" stroke-width="0.08">−30</text>
<text x="151.28" y="285.51" font-size="4.5" text-anchor="middle" font-family="'Liberation Sans', sans-serif" fill="#2b2b2b" stroke="#2b2b2b" stroke-width="0.08">−20</text>
<text x="163.15" y="285.51" font-size="4.5" text-anchor="middle" font-family="'Liberation Sans', sans-serif" fill="#2b2b2b" stroke="#2b2b2b" stroke-width="0.08">−10</text>
<text x="175.03" y="285.51" font-size="4.5" text-anchor="middle" font-family="'Liberation Sans', sans-serif" fill="#2b2b2b" stroke="#2b2b2b" stroke-width="0.08">0</text>
<text x="186.90" y="285.51" font-size="4.5" text-anchor="middle" font-family="'Liberation Sans', sans-serif" fill="#2b2b2b" stroke="#2b2b2b" stroke-width="0.08">10</text>
<text x="198.78" y="285.51" font-size="4.5" text-anchor="middle" font-family="'Liberation Sans', sans-serif" fill="#2b2b2b" stroke="#2b2b2b" stroke-width="0.08">20</text>
<text x="210.65" y="285.51" font-size="4.5" text-anchor="middle" font-family="'Liberation Sans', sans-serif" fill="#2b2b2b" stroke="#2b2b2b" stroke-width="0.08">30</text>
<text x="222.53" y="285.51" font-size="4.5" text-anchor="middle" font-family="'Liberation Sans', sans-serif" fill="#2b2b2b" stroke="#2b2b2b" stroke-width="0.08">40</text>
<text x="234.40" y="285.51" font-size="4.5" text-anchor="middle" font-family="'Liberation Sans', sans-serif" fill="#2b2b2b" stroke="#2b2b2b" stroke-width="0.08">50</text>
<text x="107.90" y="291.65" font-size="4.6" text-anchor="middle" font-family="'Liberation Sans', sans-serif" fill="#2b2b2b" stroke="#2b2b2b" stroke-width="0.08" textLength="40.00" lengthAdjust="spacingAndGlyphs">Mean proportion (%)</text>
<text x="186.70" y="291.65" font-size="4.6" text-anchor="middle" font-family="'Liberation Sans', sans-serif" fill="#2b2b2b" stroke="#2b2b2b" stroke-width="0.08" textLength="70.00" lengthAdjust="spacingAndGlyphs">Difference in mean proportions (%)</text>
<text x="83.80" y="175.22" font-size="4.8" text-anchor="end" font-family="'Liberation Sans', sans-serif" fill="#303030" stroke="#303030" stroke-width="0.07" textLength="54.01" lengthAdjust="spacingAndGlyphs">Clostridium_sensu_stricto_1</text>
<text x="236.00" y="174.42" font-size="4.8" text-anchor="start" font-family="'Liberation Sans', sans-serif" fill="#2b2b2b" stroke="#2b2b2b" stroke-width="0.12">0.003</text>
<text x="83.80" y="193.22" font-size="4.8" text-anchor="end" font-family="'Liberation Sans', sans-serif" fill="#303030" stroke="#303030" stroke-width="0.07" textLength="30.46" lengthAdjust="spacingAndGlyphs">Bifidobacterium</text>
<text x="236.00" y="192.42" font-size="4.8" text-anchor="start" font-family="'Liberation Sans', sans-serif" fill="#2b2b2b" stroke="#2b2b2b" stroke-width="0.12">0.026</text>
<text x="83.80" y="211.22" font-size="4.8" text-anchor="end" font-family="'Liberation Sans', sans-serif" fill="#303030" stroke="#303030" stroke-width="0.07" textLength="18.83" lengthAdjust="spacingAndGlyphs">Weissella</text>
<text x="236.00" y="210.42" font-size="4.8" text-anchor="start" font-family="'Liberation Sans', sans-serif" fill="#2b2b2b" stroke="#2b2b2b" stroke-width="0.12">4.64e-3</text>
<text x="83.80" y="229.22" font-size="4.8" text-anchor="end" font-family="'Liberation Sans', sans-serif" fill="#303030" stroke="#303030" stroke-width="0.07" textLength="26.78" lengthAdjust="spacingAndGlyphs">Enterococcus</text>
<text x="236.00" y="228.42" font-size="4.8" text-anchor="start" font-family="'Liberation Sans', sans-serif" fill="#2b2b2b" stroke="#2b2b2b" stroke-width="0.12">0.022</text>
<text x="83.80" y="247.22" font-size="4.8" text-anchor="end" font-family="'Liberation Sans', sans-serif" fill="#303030" stroke="#303030" stroke-width="0.07" textLength="67.89" lengthAdjust="spacingAndGlyphs">Phaseolus_acutifolius_tepary_bean</text>
<text x="236.00" y="246.42" font-size="4.8" text-anchor="start" font-family="'Liberation Sans', sans-serif" fill="#2b2b2b" stroke="#2b2b2b" stroke-width="0.12">0.045</text>
<text x="83.80" y="265.22" font-size="4.8" text-anchor="end" font-family="'Liberation Sans', sans-serif" fill="#303030" stroke="#303030" stroke-width="0.07" textLength="30.96" lengthAdjust="spacingAndGlyphs">Staphylococcus</text>
<text x="236.00" y="264.42" font-size="4.8" text-anchor="start" font-family="'Liberation Sans', sans-serif" fill="#2b2b2b" stroke="#2b2b2b" stroke-width="0.12">0.043</text>
<text x="162.00" y="152.25" font-size="4.6" text-anchor="start" font-family="'Liberation Sans', sans-serif" fill="#333" stroke="#333" stroke-width="0.08" textLength="49.60" lengthAdjust="spacingAndGlyphs">95% confidence intervals</text>
<text x="254.40" y="223.61" font-size="4.5" text-anchor="middle" font-family="'Liberation Sans', sans-serif" fill="#2b2b2b" stroke="#2b2b2b" stroke-width="0.08" transform="rotate(-90 254.40 222.00)">p-value</text>
<text x="27.00" y="151.60" font-size="4.6" text-anchor="start" font-family="'Liberation Sans', sans-serif" fill="#333" stroke="#333" stroke-width="0.08" textLength="18.00" lengthAdjust="spacingAndGlyphs">Emeria-CP</text>
<text x="58.00" y="151.60" font-size="4.6" text-anchor="start" font-family="'Liberation Sans', sans-serif" fill="#333" stroke="#333" stroke-width="0.08" textLength="20.00" lengthAdjust="spacingAndGlyphs">Noninfected</text>
<text x="329.90" y="272.61" font-size="4.5" text-anchor="middle" font-family="'Liberation Sans', sans-serif" fill="#2b2b2b" stroke="#2b2b2b" stroke-width="0.08">0.0</text>
<text x="371.60" y="272.61" font-size="4.5" text-anchor="middle" font-family="'Liberation Sans', sans-serif" fill="#2b2b2b" stroke="#2b2b2b" stroke-width="0.08">63.4</text>
<text x="382.60" y="272.61" font-size="4.5" text-anchor="middle" font-family="'Liberation Sans', sans-serif" fill="#2b2b2b" stroke="#2b2b2b" stroke-width="0.08">−40</text>
<text x="401.80" y="272.61" font-size="4.5" text-anchor="middle" font-family="'Liberation Sans', sans-serif" fill="#2b2b2b" stroke="#2b2b2b" stroke-width="0.08">−20</text>
<text x="421.00" y="272.61" font-size="4.5" text-anchor="middle" font-family="'Liberation Sans', sans-serif" fill="#2b2b2b" stroke="#2b2b2b" stroke-width="0.08">0</text>
<text x="440.20" y="272.61" font-size="4.5" text-anchor="middle" font-family="'Liberation Sans', sans-serif" fill="#2b2b2b" stroke="#2b2b2b" stroke-width="0.08">20</text>
<text x="459.40" y="272.61" font-size="4.5" text-anchor="middle" font-family="'Liberation Sans', sans-serif" fill="#2b2b2b" stroke="#2b2b2b" stroke-width="0.08">40</text>
<text x="478.60" y="272.61" font-size="4.5" text-anchor="middle" font-family="'Liberation Sans', sans-serif" fill="#2b2b2b" stroke="#2b2b2b" stroke-width="0.08">60</text>
<text x="351.95" y="278.25" font-size="4.6" text-anchor="middle" font-family="'Liberation Sans', sans-serif" fill="#2b2b2b" stroke="#2b2b2b" stroke-width="0.08" textLength="40.00" lengthAdjust="spacingAndGlyphs">Mean proportion (%)</text>
<text x="431.00" y="278.25" font-size="4.6" text-anchor="middle" font-family="'Liberation Sans', sans-serif" fill="#2b2b2b" stroke="#2b2b2b" stroke-width="0.08" textLength="70.00" lengthAdjust="spacingAndGlyphs">Difference in mean proportions (%)</text>
<text x="327.90" y="177.22" font-size="4.8" text-anchor="end" font-family="'Liberation Sans', sans-serif" fill="#303030" stroke="#303030" stroke-width="0.07" textLength="54.01" lengthAdjust="spacingAndGlyphs">Clostridium_sensu_stricto_1</text>
<text x="480.40" y="177.15" font-size="4.6" text-anchor="start" font-family="'Liberation Sans', sans-serif" fill="#2b2b2b" stroke="#2b2b2b" stroke-width="0.12">0.023</text>
<text x="327.90" y="195.67" font-size="4.8" text-anchor="end" font-family="'Liberation Sans', sans-serif" fill="#303030" stroke="#303030" stroke-width="0.07" textLength="25.55" lengthAdjust="spacingAndGlyphs">Lactobacillus</text>
<text x="480.40" y="195.60" font-size="4.6" text-anchor="start" font-family="'Liberation Sans', sans-serif" fill="#2b2b2b" stroke="#2b2b2b" stroke-width="0.12">0.012</text>
<text x="327.90" y="214.12" font-size="4.8" text-anchor="end" font-family="'Liberation Sans', sans-serif" fill="#303030" stroke="#303030" stroke-width="0.07" textLength="30.46" lengthAdjust="spacingAndGlyphs">Bifidobacterium</text>
<text x="480.40" y="214.05" font-size="4.6" text-anchor="start" font-family="'Liberation Sans', sans-serif" fill="#2b2b2b" stroke="#2b2b2b" stroke-width="0.12">0.030</text>
<text x="327.90" y="232.57" font-size="4.8" text-anchor="end" font-family="'Liberation Sans', sans-serif" fill="#303030" stroke="#303030" stroke-width="0.07" textLength="39.92" lengthAdjust="spacingAndGlyphs">Escherichia_Shigella</text>
<text x="480.40" y="232.50" font-size="4.6" text-anchor="start" font-family="'Liberation Sans', sans-serif" fill="#2b2b2b" stroke="#2b2b2b" stroke-width="0.12">0.036</text>
<text x="327.90" y="251.02" font-size="4.8" text-anchor="end" font-family="'Liberation Sans', sans-serif" fill="#303030" stroke="#303030" stroke-width="0.07" textLength="67.89" lengthAdjust="spacingAndGlyphs">Phaseolus_acutifolius_tepary_bean</text>
<text x="480.40" y="250.95" font-size="4.6" text-anchor="start" font-family="'Liberation Sans', sans-serif" fill="#2b2b2b" stroke="#2b2b2b" stroke-width="0.12">0.047</text>
<text x="406.00" y="155.05" font-size="4.6" text-anchor="start" font-family="'Liberation Sans', sans-serif" fill="#333" stroke="#333" stroke-width="0.08" textLength="50.00" lengthAdjust="spacingAndGlyphs">95% confidence intervals</text>
<text x="499.60" y="214.01" font-size="4.5" text-anchor="middle" font-family="'Liberation Sans', sans-serif" fill="#2b2b2b" stroke="#2b2b2b" stroke-width="0.08" transform="rotate(-90 499.60 212.40)">p-value</text>
<text x="271.60" y="156.80" font-size="4.6" text-anchor="start" font-family="'Liberation Sans', sans-serif" fill="#333" stroke="#333" stroke-width="0.08" textLength="26.40" lengthAdjust="spacingAndGlyphs">Emeria-CP+AM</text>
<text x="310.20" y="156.80" font-size="4.6" text-anchor="start" font-family="'Liberation Sans', sans-serif" fill="#333" stroke="#333" stroke-width="0.08" textLength="20.40" lengthAdjust="spacingAndGlyphs">Noninfected</text>
<text x="539.40" y="241.31" font-size="4.5" text-anchor="middle" font-family="'Liberation Sans', sans-serif" fill="#2b2b2b" stroke="#2b2b2b" stroke-width="0.08">0.0</text>
<text x="582.00" y="241.31" font-size="4.5" text-anchor="middle" font-family="'Liberation Sans', sans-serif" fill="#2b2b2b" stroke="#2b2b2b" stroke-width="0.08">0.1</text>
<text x="592.40" y="241.31" font-size="4.5" text-anchor="middle" font-family="'Liberation Sans', sans-serif" fill="#2b2b2b" stroke="#2b2b2b" stroke-width="0.08">−0.20</text>
<text x="619.20" y="241.31" font-size="4.5" text-anchor="middle" font-family="'Liberation Sans', sans-serif" fill="#2b2b2b" stroke="#2b2b2b" stroke-width="0.08">−0.15</text>
<text x="646.00" y="241.31" font-size="4.5" text-anchor="middle" font-family="'Liberation Sans', sans-serif" fill="#2b2b2b" stroke="#2b2b2b" stroke-width="0.08">−0.10</text>
<text x="672.80" y="241.31" font-size="4.5" text-anchor="middle" font-family="'Liberation Sans', sans-serif" fill="#2b2b2b" stroke="#2b2b2b" stroke-width="0.08">−0.05</text>
<text x="699.60" y="241.31" font-size="4.5" text-anchor="middle" font-family="'Liberation Sans', sans-serif" fill="#2b2b2b" stroke="#2b2b2b" stroke-width="0.08">0.00</text>
<text x="726.40" y="241.31" font-size="4.5" text-anchor="middle" font-family="'Liberation Sans', sans-serif" fill="#2b2b2b" stroke="#2b2b2b" stroke-width="0.08">0.05</text>
<text x="561.70" y="247.05" font-size="4.6" text-anchor="middle" font-family="'Liberation Sans', sans-serif" fill="#2b2b2b" stroke="#2b2b2b" stroke-width="0.08" textLength="40.00" lengthAdjust="spacingAndGlyphs">Mean proportion (%)</text>
<text x="659.40" y="247.05" font-size="4.6" text-anchor="middle" font-family="'Liberation Sans', sans-serif" fill="#2b2b2b" stroke="#2b2b2b" stroke-width="0.08" textLength="70.00" lengthAdjust="spacingAndGlyphs">Difference in mean proportions (%)</text>
<text x="538.40" y="175.32" font-size="4.8" text-anchor="end" font-family="'Liberation Sans', sans-serif" fill="#303030" stroke="#303030" stroke-width="0.07" textLength="25.50" lengthAdjust="spacingAndGlyphs">Pediococcus</text>
<text x="728.00" y="175.25" font-size="4.6" text-anchor="start" font-family="'Liberation Sans', sans-serif" fill="#2b2b2b" stroke="#2b2b2b" stroke-width="0.12">0.037</text>
<text x="538.40" y="190.77" font-size="4.8" text-anchor="end" font-family="'Liberation Sans', sans-serif" fill="#303030" stroke="#303030" stroke-width="0.07" textLength="25.00" lengthAdjust="spacingAndGlyphs">Akkermansia</text>
<text x="728.00" y="190.70" font-size="4.6" text-anchor="start" font-family="'Liberation Sans', sans-serif" fill="#2b2b2b" stroke="#2b2b2b" stroke-width="0.12">3.38e-4</text>
<text x="538.40" y="206.22" font-size="4.8" text-anchor="end" font-family="'Liberation Sans', sans-serif" fill="#303030" stroke="#303030" stroke-width="0.07" textLength="24.90" lengthAdjust="spacingAndGlyphs">Eubacterium</text>
<text x="728.00" y="206.15" font-size="4.6" text-anchor="start" font-family="'Liberation Sans', sans-serif" fill="#2b2b2b" stroke="#2b2b2b" stroke-width="0.12">0.031</text>
<text x="538.40" y="221.67" font-size="4.8" text-anchor="end" font-family="'Liberation Sans', sans-serif" fill="#303030" stroke="#303030" stroke-width="0.07" textLength="30.30" lengthAdjust="spacingAndGlyphs">Porphyromonas</text>
<text x="728.00" y="221.60" font-size="4.6" text-anchor="start" font-family="'Liberation Sans', sans-serif" fill="#2b2b2b" stroke="#2b2b2b" stroke-width="0.12">0.043</text>
<text x="635.00" y="156.05" font-size="4.6" text-anchor="start" font-family="'Liberation Sans', sans-serif" fill="#333" stroke="#333" stroke-width="0.08" textLength="49.40" lengthAdjust="spacingAndGlyphs">95% confidence intervals</text>
<text x="747.00" y="198.61" font-size="4.5" text-anchor="middle" font-family="'Liberation Sans', sans-serif" fill="#2b2b2b" stroke="#2b2b2b" stroke-width="0.08" transform="rotate(-90 747.00 197.00)">p-value</text>
<text x="517.00" y="156.30" font-size="4.6" text-anchor="start" font-family="'Liberation Sans', sans-serif" fill="#333" stroke="#333" stroke-width="0.08" textLength="18.40" lengthAdjust="spacingAndGlyphs">Emeria-CP</text>
<text x="550.40" y="156.30" font-size="4.6" text-anchor="start" font-family="'Liberation Sans', sans-serif" fill="#333" stroke="#333" stroke-width="0.08" textLength="26.60" lengthAdjust="spacingAndGlyphs">Emeria-CP+HBX</text>
<text x="0.80" y="7.81" font-size="7.80" font-family="'Liberation Sans', sans-serif" fill="#333" stroke="#333" stroke-width="0.25">(</text>
<text x="3.60" y="8.80" font-size="8.94" font-family="'Liberation Sans', sans-serif" fill="#222" stroke="#222" stroke-width="0.5" textLength="5.4" lengthAdjust="spacingAndGlyphs">A</text>
<text x="9.10" y="7.81" font-size="7.80" font-family="'Liberation Sans', sans-serif" fill="#333" stroke="#333" stroke-width="0.25">)</text>
<text x="0.80" y="151.91" font-size="7.80" font-family="'Liberation Sans', sans-serif" fill="#333" stroke="#333" stroke-width="0.25">(</text>
<text x="3.60" y="152.90" font-size="8.94" font-family="'Liberation Sans', sans-serif" fill="#222" stroke="#222" stroke-width="0.5" textLength="5.4" lengthAdjust="spacingAndGlyphs">B</text>
<text x="9.10" y="151.91" font-size="7.80" font-family="'Liberation Sans', sans-serif" fill="#333" stroke="#333" stroke-width="0.25">)</text>
</g>
</svg>
</body></html>
